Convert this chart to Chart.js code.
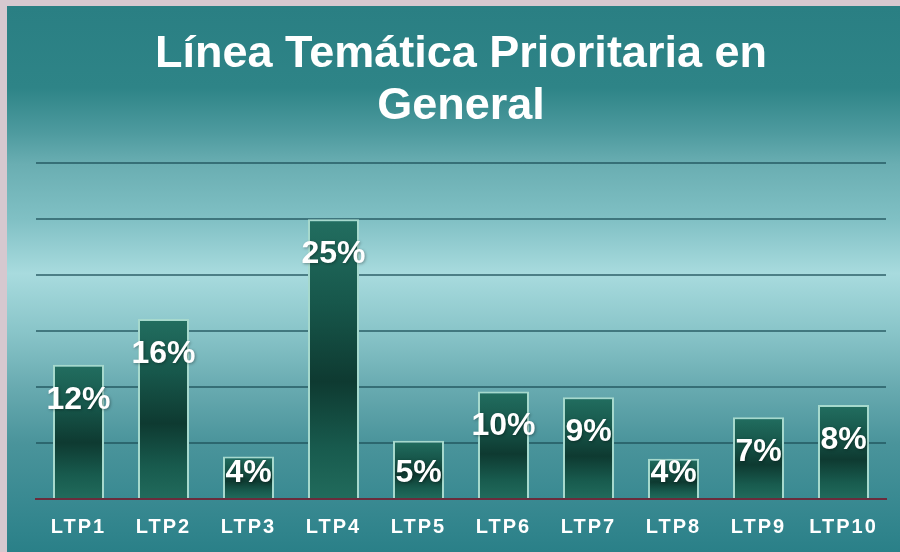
<!DOCTYPE html>
<html lang="es">
<head>
  <meta charset="UTF-8" />
  <title>Línea Temática Prioritaria en General</title>
  <script src="https://cdn.jsdelivr.net/npm/chart.js"></script>
  <style>
    html, body { margin: 0; padding: 0; }
    body { width: 900px; height: 552px; background: #d6c8cf; overflow: hidden; position: relative; }
    #panel {
      position: absolute; left: 7px; top: 6px; width: 893px; height: 546px;
      background: linear-gradient(to bottom,
        #2a7f83 0%, #2e8487 15%, #4d9a9e 23%, #6aaeb2 29%, #80c0c4 39%,
        #a8dbde 49%, #88c4c8 60%, #68aab0 70%, #4a949b 80%, #3a8a92 90%, #2a8088 100%);
    }
    canvas { display: block; }
  </style>
</head>
<body>
<div id="panel"><canvas id="chartCanvas" width="893" height="546"></canvas></div>

<script>
  const categories = ['LTP1', 'LTP2', 'LTP3', 'LTP4', 'LTP5', 'LTP6', 'LTP7', 'LTP8', 'LTP9', 'LTP10'];
  const values = [12.0, 16.1, 3.8, 25.0, 5.2, 9.6, 9.1, 3.6, 7.3, 8.4];
  const valueLabels = ['12%', '16%', '4%', '25%', '5%', '10%', '9%', '4%', '7%', '8%'];
  const yTicks = [0, 5, 10, 15, 20, 25, 30];

  const fontFamily = '"Liberation Sans", Arial, sans-serif';

  // each bar gets its own dark-middle gradient
  function barFill(ctx) {
    const chart = ctx.chart;
    if (!chart.chartArea) return '#165045';
    const ys = chart.scales.y;
    const top = ys.getPixelForValue(values[ctx.dataIndex]);
    const base = ys.getPixelForValue(0);
    const g = chart.ctx.createLinearGradient(0, top, 0, base);
    g.addColorStop(0, '#226e60');
    g.addColorStop(0.3, '#17574b');
    g.addColorStop(0.58, '#0e3a31');
    g.addColorStop(0.82, '#185b4e');
    g.addColorStop(1, '#216b5c');
    return g;
  }

  const barLabels = {
    id: 'barLabels',
    afterDatasetsDraw(chart) {
      const ctx = chart.ctx;
      const meta = chart.getDatasetMeta(0);
      ctx.save();
      ctx.font = 'bold 32px ' + fontFamily;
      ctx.fillStyle = '#ffffff';
      ctx.textAlign = 'center';
      ctx.textBaseline = 'middle';
      ctx.shadowColor = 'rgba(0,0,0,0.35)';
      ctx.shadowBlur = 3;
      ctx.shadowOffsetX = 1;
      ctx.shadowOffsetY = 1;
      meta.data.forEach((bar, i) => {
        const y = Math.min(bar.y + 35, bar.base - 25);
        ctx.fillText(valueLabels[i], bar.x, y);
      });
      ctx.restore();
      // x tick labels are drawn after this (ticks.z = 1), spaced out a little
      ctx.letterSpacing = '2px';
    },
    afterDraw(chart) {
      chart.ctx.letterSpacing = '0px';
    }
  };

  new Chart(document.getElementById('chartCanvas').getContext('2d'), {
    type: 'bar',
    data: {
      labels: categories,
      datasets: [{
        data: values,
        backgroundColor: barFill,
        borderColor: '#a6d9cd',
        borderWidth: 2,
        barPercentage: 0.6,
        categoryPercentage: 1
      }]
    },
    options: {
      responsive: false,
      animation: false,
      layout: { padding: { left: 29, right: 14, top: 0, bottom: 0 } },
      scales: {
        x: {
          grid: { display: false, drawTicks: false },
          border: { display: true, color: '#6a2c3c', width: 2 },
          afterFit(scale) { scale.height = 53; },
          ticks: {
            z: 1,
            padding: 16,
            color: '#ffffff',
            font: { family: fontFamily, size: 20, weight: 'bold' }
          }
        },
        y: {
          min: 0,
          max: 30,
          afterBuildTicks(scale) { scale.ticks = yTicks.map(v => ({ value: v })); },
          ticks: { display: false },
          grid: { color: 'rgba(28,78,88,0.65)', lineWidth: 2, drawTicks: false },
          border: { display: false }
        }
      },
      plugins: {
        legend: { display: false },
        tooltip: { enabled: false },
        title: {
          display: true,
          text: ['Línea Temática Prioritaria en', 'General'],
          color: '#ffffff',
          font: { family: fontFamily, size: 45, weight: 'bold', lineHeight: 1.16 },
          padding: { top: 22, bottom: 31 }
        }
      }
    },
    plugins: [barLabels]
  });
</script>
</body>
</html>
